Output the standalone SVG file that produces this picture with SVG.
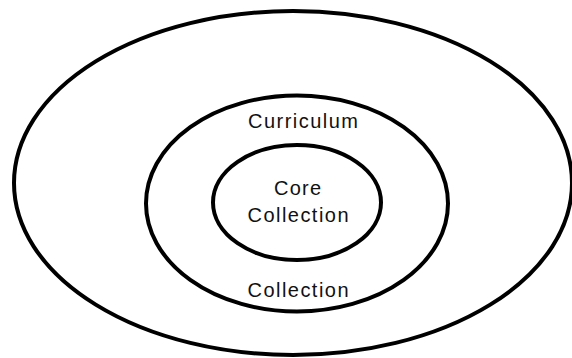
<svg xmlns="http://www.w3.org/2000/svg" width="572" height="358" viewBox="0 0 572 358">
<style>
.ring{fill:none;stroke:#000;stroke-width:4}
.lbl{font-family:"Liberation Sans",Arial,sans-serif;font-size:20px;fill:#111;text-anchor:middle}
</style>
<rect width="572" height="358" fill="#fff"/>
<g id="outer"><ellipse class="ring" cx="293" cy="183" rx="279" ry="172"/></g>
<g id="curriculum"><ellipse class="ring" cx="297" cy="203.5" rx="151" ry="108"/>
<text class="lbl" x="303" y="128" textLength="110">Curriculum</text>
<text class="lbl" x="298" y="297" textLength="101">Collection</text></g>
<g id="core"><ellipse class="ring" cx="297" cy="202.5" rx="84" ry="57.5"/>
<text class="lbl" x="297.5" y="195" textLength="47">Core</text>
<text class="lbl" x="298" y="222" textLength="101">Collection</text></g>
</svg>
